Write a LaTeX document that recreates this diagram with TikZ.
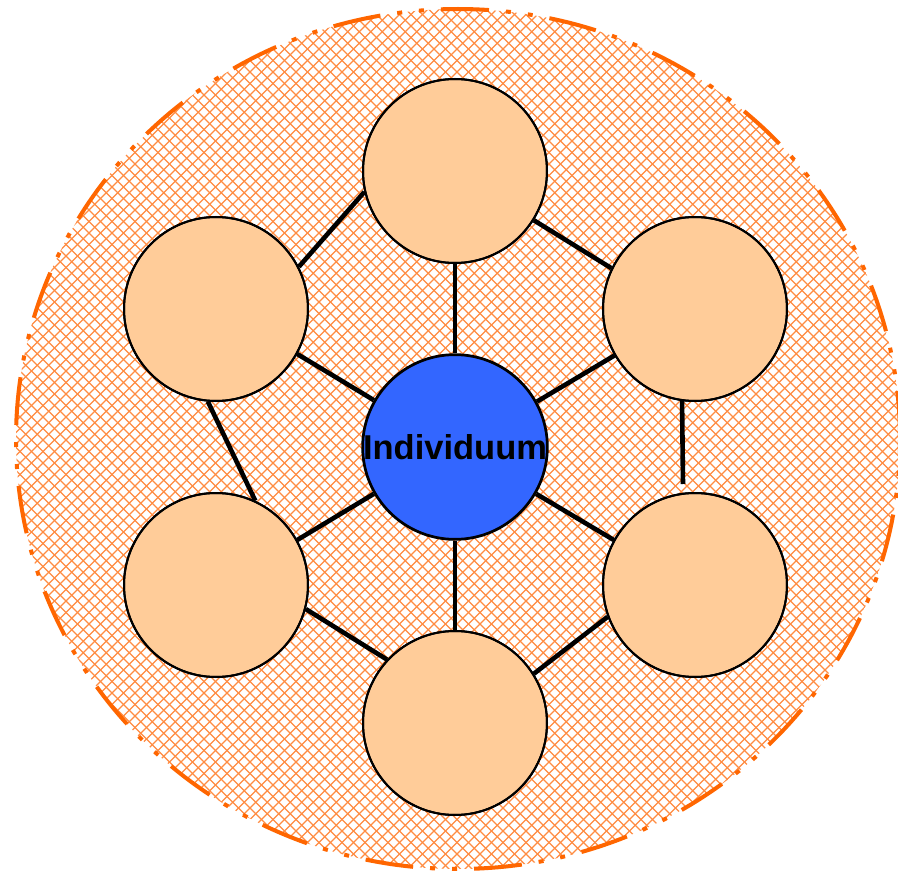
\documentclass[tikz,border=0pt]{standalone}
\usepackage{fontspec}
\setmainfont{Liberation Sans}
\definecolor{hatch}{RGB}{255,140,66}
\definecolor{rim}{RGB}{255,102,0}
\definecolor{peach}{RGB}{255,204,153}
\definecolor{core}{RGB}{51,102,255}
\begin{document}
\begin{tikzpicture}[x=1pt,y=-1pt,
  member/.style={circle,draw=black,line width=2pt,fill=peach,minimum size=184pt,inner sep=0pt},
  selfnode/.style={circle,draw=black,line width=2pt,fill=core,minimum size=184pt,inner sep=0pt,
    font=\fontsize{34.5}{36}\selectfont\bfseries},
  tie/.style={line width=4.6pt,black},
  hatchline/.style={hatch,line width=1.3pt}]
\useasboundingbox (0,0) rectangle (898,872);
\fill[white] (0,0) rectangle (898,872);
% hatched background
\begin{scope}
  \clip (458,439) ellipse [x radius=442pt, y radius=430pt];
  \foreach \c in {-880,-868.5,...,900} {
    \draw[hatchline] (\c,0) -- (\c+880,880);
  }
  \foreach \c in {0,11.5,...,1780} {
    \draw[hatchline] (\c,0) -- (\c-880,880);
  }
\end{scope}
\draw[rim,line width=4pt,dash pattern=on 48pt off 17pt on 5pt off 17pt on 5pt off 17pt]
  (458,439) ellipse [x radius=442pt, y radius=430pt];
% nodes
\node[member] (top) at (455,171) {};
\node[member] (ul) at (216,309) {};
\node[member] (ur) at (695,309) {};
\node[member] (ll) at (216,585) {};
\node[member] (lr) at (695,585) {};
\node[member] (bot) at (455,723) {};
\node[selfnode] (c) at (455,447) {Individuum};
\coordinate (urend) at (683,484);
% connectors
\draw[tie] (ul.27) -- (top.193);
\draw[tie] (top.-32) -- (ur.154);
\draw[tie] (top.south) -- (c.north);
\draw[tie] (ul.-29) -- (c.150);
\draw[tie] (c.29) -- (ur.210);
\draw[tie] (ul.265) -- (ll.65);
\draw[tie] (ur.262.5) -- (urend);
\draw[tie] (ll.29) -- (c.210);
\draw[tie] (c.-30) -- (lr.151);
\draw[tie] (c.south) -- (bot.north);
\draw[tie] (ll.-15) -- (bot.137);
\draw[tie] (lr.200) -- (bot.32);
% redraw circle outlines over the line ends
\foreach \n in {top,ul,ur,ll,lr,bot,c} {
  \draw[black,line width=2pt] (\n) circle (92pt);
}
\end{tikzpicture}
\end{document}
